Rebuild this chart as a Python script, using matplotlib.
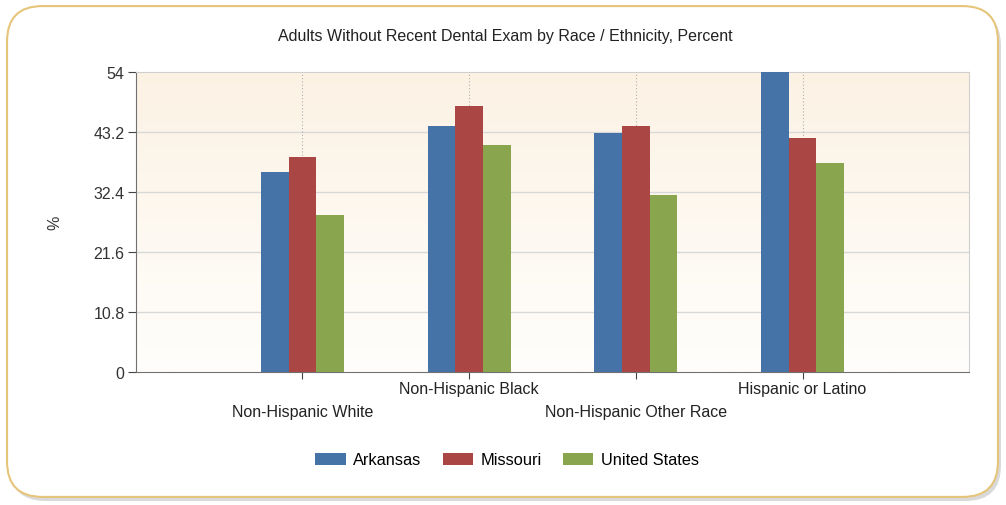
import matplotlib
matplotlib.use("Agg")
import matplotlib.pyplot as plt
import numpy as np
from matplotlib.patches import FancyBboxPatch

categories = ["Non-Hispanic White", "Non-Hispanic Black", "Non-Hispanic Other Race", "Hispanic or Latino"]
series_names = ["Arkansas", "Missouri", "United States"]
arkansas = [36.0, 44.2, 42.9, 54.0]
missouri = [38.7, 47.9, 44.2, 42.1]
united_states = [28.25, 40.8, 31.8, 37.6]
yticks = [0, 10.8, 21.6, 32.4, 43.2, 54]
ytick_labels = ["0", "10.8", "21.6", "32.4", "43.2", "54"]
colors = ["#4572a7", "#aa4643", "#89a54e"]

plt.rcParams['font.family'] = ['Liberation Sans', 'DejaVu Sans']

fig = plt.figure(figsize=(10.06, 5.06), dpi=100)
fig.patch.set_facecolor("white")

# outer rounded frame with shadow
shadow = FancyBboxPatch((0.010, 0.008), 0.985, 0.970, boxstyle="round,pad=0,rounding_size=0.035",
                        transform=fig.transFigure, facecolor="#d9d9d9", edgecolor="none",
                        mutation_aspect=2.0, zorder=0)
frame = FancyBboxPatch((0.007, 0.016), 0.985, 0.970, boxstyle="round,pad=0,rounding_size=0.035",
                       transform=fig.transFigure, facecolor="white", edgecolor="#e6c57a",
                       linewidth=1.5, mutation_aspect=2.0, zorder=1)
fig.patches.extend([shadow, frame])

ax = fig.add_axes([0.1349, 0.2623, 0.8286, 0.594])
ax.set_zorder(2)
ax.patch.set_alpha(0)

# gradient background
top = np.array([252, 242, 228]) / 255.0
bot = np.array([255, 254, 252]) / 255.0
t = np.linspace(0, 1, 256)[:, None]
grad = (top[None, :] * (1 - t) + bot[None, :] * t)[:, None, :]
ax.imshow(grad, extent=[0, 1, 0, 1], transform=ax.transAxes, aspect="auto", zorder=0)

x = np.arange(1, len(categories) + 1)
w = 0.166
for i, (vals, c, name) in enumerate(zip([arkansas, missouri, united_states], colors, series_names)):
    ax.bar(x + (i - 1) * w, vals, width=w, color=c, label=name, zorder=3, linewidth=0)

ax.set_xlim(0, 5)
ax.set_ylim(0, 54)
ax.set_yticks(yticks)
ax.set_yticklabels(ytick_labels, fontsize=11.5, color="#333333")
ax.set_xticks(x)
ax.set_xticklabels([])
for xi, lab in zip(x, categories):
    yoff = -0.129 if xi % 2 == 1 else -0.0556
    ax.text(xi, yoff, lab, transform=ax.get_xaxis_transform(), ha="center", va="center",
            fontsize=11.5, color="#222222")

for yv in yticks[1:-1]:
    ax.axhline(yv, color="#d8d8d8", linewidth=1, zorder=1)
for xi in x:
    ax.axvline(xi, color="#b0b0b0", linewidth=0.8, linestyle=(0, (1, 2)), zorder=1)

for s in ["top", "right"]:
    ax.spines[s].set_color("#cfcfcf")
for s in ["left", "bottom"]:
    ax.spines[s].set_color("#707070")
ax.tick_params(axis="y", length=6, color="#444444", pad=2)
ax.tick_params(axis="x", length=5, color="#444444")

ax.set_ylabel("%", fontsize=11.5, color="#333333")
ax.yaxis.set_label_coords(-0.088, 0.5)

fig.text(0.502, 0.927, "Adults Without Recent Dental Exam by Race / Ethnicity, Percent",
         ha="center", va="center", fontsize=11.5, color="#222222")

handles, labels = ax.get_legend_handles_labels()
leg = fig.legend(handles, labels, loc="center", bbox_to_anchor=(0.504, 0.089), ncol=3,
                 frameon=False, fontsize=11.8, handlelength=1.85, handleheight=0.75,
                 columnspacing=1.3, handletextpad=0.45)

fig.savefig("out.png", dpi=100, facecolor="white")
